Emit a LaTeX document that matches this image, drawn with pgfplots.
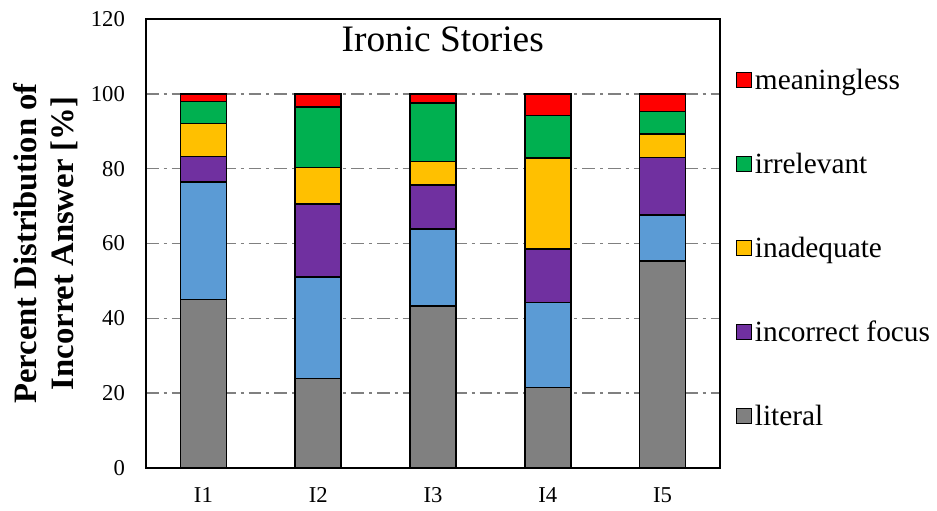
\documentclass[border=0pt]{standalone}
\usepackage{fontspec}
\setmainfont{Liberation Serif}
\usepackage{pgfplots}
\pgfplotsset{compat=1.18}

\definecolor{cLiteral}{HTML}{808080}
\definecolor{cBlue}{HTML}{5B9BD5}
\definecolor{cFocus}{HTML}{7030A0}
\definecolor{cInadequate}{HTML}{FFC000}
\definecolor{cIrrelevant}{HTML}{00B050}
\definecolor{cMeaningless}{HTML}{FF0000}

\begin{document}
\begin{tikzpicture}
% page frame around the axis
\useasboundingbox (-109.5pt,-31.5pt) rectangle (593.25pt,351pt);
\begin{axis}[
  at={(0,0)}, anchor=south west,
  scale only axis, width=430.5pt, height=336.75pt,
  ybar stacked, bar width=0.4,
  xmin=0.5, xmax=5.5, ymin=0, ymax=120,
  xtick={1,2,3,4,5}, xticklabels={I1,I2,I3,I4,I5},
  ytick={0,20,40,60,80,100,120},
  major tick length=0pt,
  ymajorgrids,
  grid style={color=black!50, line width=1.2pt, dash pattern=on 9.5pt off 3.75pt on 2.25pt off 3.75pt},
  axis line style={line width=1.1pt},
  /pgf/number format/assume math mode=true,
  tick label style={font=\fontsize{17}{19}\selectfont},
  yticklabel style={xshift=-12.3pt},
  xticklabel style={yshift=-11pt},
  ylabel={Percent Distribution of\\Incorret Answer [\%]},
  ylabel style={at={(rel axis cs:-0.1742,0.5)}, anchor=center, align=center,
    font=\bfseries\fontsize{24.5}{27.5}\selectfont},
  title={Ironic Stories},
  title style={at={(0.517,0.910)}, anchor=base, yshift=0pt, font=\fontsize{28}{30}\selectfont},
  legend style={draw=none, fill=none, at={(1,0.486)}, anchor=west, xshift=11.5pt,
    inner sep=0pt, row sep=43pt, font=\fontsize{22}{24}\selectfont,
    nodes={inner xsep=2.5pt, inner ysep=0pt, text height=16pt, text depth=4pt}},
  legend cell align=left,
  reverse legend,
  legend image code/.code={\draw[#1,draw=black,line width=0.75pt] (0pt,-4.5pt) rectangle (11.25pt,6.75pt);},
]
\addplot[fill=cLiteral, draw=black, line width=1.2pt] coordinates {(1,45.0) (2,23.9) (3,43.3) (4,21.5) (5,55.4)};
\addlegendentry{literal}
\addplot[fill=cBlue, draw=black, line width=1.2pt, forget plot] coordinates {(1,31.4) (2,27.2) (3,20.5) (4,22.7) (5,12.2)};
\addplot[fill=cFocus, draw=black, line width=1.2pt] coordinates {(1,6.8) (2,19.5) (3,11.9) (4,14.3) (5,15.4)};
\addlegendentry{incorrect focus}
\addplot[fill=cInadequate, draw=black, line width=1.2pt] coordinates {(1,8.9) (2,9.7) (3,6.2) (4,24.3) (5,6.2)};
\addlegendentry{inadequate}
\addplot[fill=cIrrelevant, draw=black, line width=1.2pt] coordinates {(1,5.8) (2,16.2) (3,15.6) (4,11.4) (5,6.1)};
\addlegendentry{irrelevant}
\addplot[fill=cMeaningless, draw=black, line width=1.2pt] coordinates {(1,2.1) (2,3.5) (3,2.5) (4,5.8) (5,4.7)};
\addlegendentry{meaningless}
\end{axis}
\end{tikzpicture}
\end{document}
